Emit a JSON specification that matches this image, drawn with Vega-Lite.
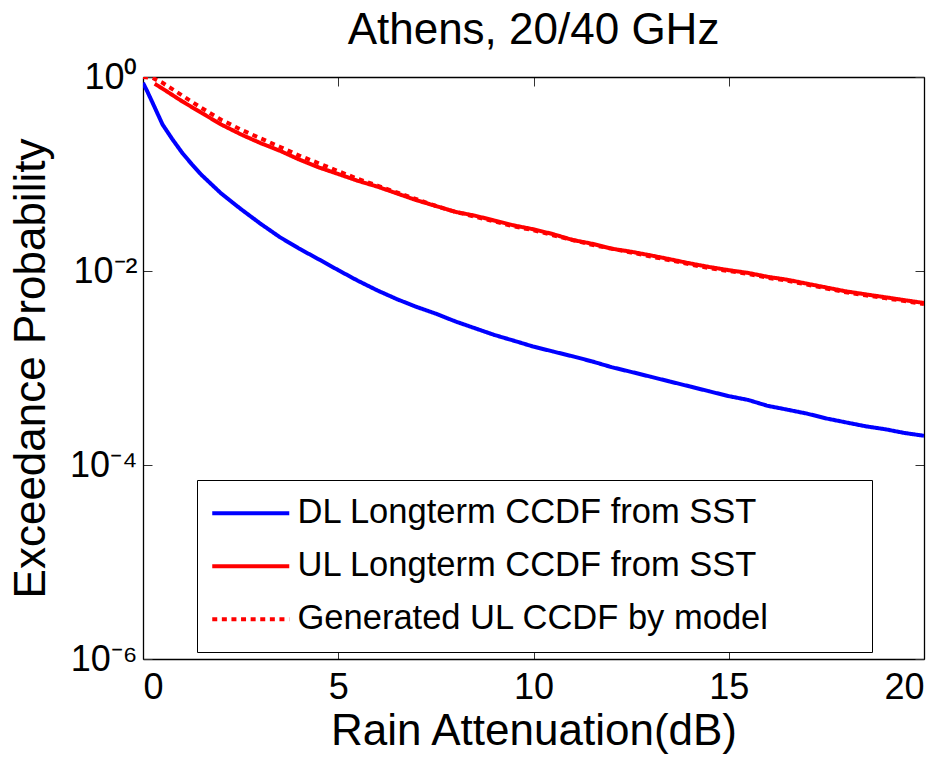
{
  "$schema": "https://vega.github.io/schema/vega-lite/v6.json",
  "width": 781,
  "height": 582,
  "autosize": {"type": "none"},
  "padding": {"left": 143, "top": 77, "right": 28, "bottom": 102},
  "background": "white",
  "title": {"text": "Athens, 20/40 GHz", "fontSize": 44, "fontWeight": "normal", "font": "Liberation Sans", "color": "black", "offset": 6},
  "config": {
    "font": "Liberation Sans",
    "view": {"stroke": null},
    "axis": {"grid": false, "domainColor": "black", "domainWidth": 1.3, "tickColor": "#333", "tickWidth": 1, "tickSize": -9, "labelFont": "Liberation Sans", "labelFontSize": 36, "labelColor": "black", "titleFont": "Liberation Sans", "titleFontSize": 44, "titleFontWeight": "normal", "titleColor": "black"}
  },
  "datasets": {
    "curves": [
      {"series": "DL Longterm CCDF from SST", "A": 0, "p": 0.871},
      {"series": "DL Longterm CCDF from SST", "A": 0.1, "p": 0.724},
      {"series": "DL Longterm CCDF from SST", "A": 0.25, "p": 0.537},
      {"series": "DL Longterm CCDF from SST", "A": 0.5, "p": 0.324},
      {"series": "DL Longterm CCDF from SST", "A": 0.75, "p": 0.229},
      {"series": "DL Longterm CCDF from SST", "A": 1.0, "p": 0.166},
      {"series": "DL Longterm CCDF from SST", "A": 1.25, "p": 0.126},
      {"series": "DL Longterm CCDF from SST", "A": 1.5, "p": 0.0977},
      {"series": "DL Longterm CCDF from SST", "A": 2.0, "p": 0.0631},
      {"series": "DL Longterm CCDF from SST", "A": 2.5, "p": 0.0437},
      {"series": "DL Longterm CCDF from SST", "A": 3.0, "p": 0.0309},
      {"series": "DL Longterm CCDF from SST", "A": 3.5, "p": 0.0224},
      {"series": "DL Longterm CCDF from SST", "A": 4.0, "p": 0.0170},
      {"series": "DL Longterm CCDF from SST", "A": 4.5, "p": 0.0132},
      {"series": "DL Longterm CCDF from SST", "A": 5.0, "p": 0.0102},
      {"series": "DL Longterm CCDF from SST", "A": 5.5, "p": 0.00794},
      {"series": "DL Longterm CCDF from SST", "A": 6.0, "p": 0.00631},
      {"series": "DL Longterm CCDF from SST", "A": 6.5, "p": 0.00513},
      {"series": "DL Longterm CCDF from SST", "A": 7.0, "p": 0.00427},
      {"series": "DL Longterm CCDF from SST", "A": 7.5, "p": 0.00363},
      {"series": "DL Longterm CCDF from SST", "A": 8.0, "p": 0.00302},
      {"series": "DL Longterm CCDF from SST", "A": 8.5, "p": 0.00257},
      {"series": "DL Longterm CCDF from SST", "A": 9.0, "p": 0.00219},
      {"series": "DL Longterm CCDF from SST", "A": 9.5, "p": 0.00191},
      {"series": "DL Longterm CCDF from SST", "A": 10.0, "p": 0.00166},
      {"series": "DL Longterm CCDF from SST", "A": 10.5, "p": 0.00148},
      {"series": "DL Longterm CCDF from SST", "A": 11.0, "p": 0.00132},
      {"series": "DL Longterm CCDF from SST", "A": 11.5, "p": 0.00117},
      {"series": "DL Longterm CCDF from SST", "A": 12.0, "p": 0.00102},
      {"series": "DL Longterm CCDF from SST", "A": 12.5, "p": 0.000912},
      {"series": "DL Longterm CCDF from SST", "A": 13.0, "p": 0.000813},
      {"series": "DL Longterm CCDF from SST", "A": 13.5, "p": 0.000724},
      {"series": "DL Longterm CCDF from SST", "A": 14.0, "p": 0.000646},
      {"series": "DL Longterm CCDF from SST", "A": 14.5, "p": 0.000575},
      {"series": "DL Longterm CCDF from SST", "A": 15.0, "p": 0.000513},
      {"series": "DL Longterm CCDF from SST", "A": 15.5, "p": 0.000468},
      {"series": "DL Longterm CCDF from SST", "A": 16.0, "p": 0.000407},
      {"series": "DL Longterm CCDF from SST", "A": 16.5, "p": 0.000372},
      {"series": "DL Longterm CCDF from SST", "A": 17.0, "p": 0.000339},
      {"series": "DL Longterm CCDF from SST", "A": 17.5, "p": 0.000302},
      {"series": "DL Longterm CCDF from SST", "A": 18.0, "p": 0.000275},
      {"series": "DL Longterm CCDF from SST", "A": 18.5, "p": 0.000251},
      {"series": "DL Longterm CCDF from SST", "A": 19.0, "p": 0.000234},
      {"series": "DL Longterm CCDF from SST", "A": 19.5, "p": 0.000214},
      {"series": "DL Longterm CCDF from SST", "A": 20.0, "p": 0.000200},
      {"series": "UL Longterm CCDF from SST", "A": 0.3, "p": 0.851},
      {"series": "UL Longterm CCDF from SST", "A": 0.5, "p": 0.759},
      {"series": "UL Longterm CCDF from SST", "A": 1.0, "p": 0.562},
      {"series": "UL Longterm CCDF from SST", "A": 1.5, "p": 0.427},
      {"series": "UL Longterm CCDF from SST", "A": 2.0, "p": 0.324},
      {"series": "UL Longterm CCDF from SST", "A": 2.5, "p": 0.257},
      {"series": "UL Longterm CCDF from SST", "A": 3.0, "p": 0.209},
      {"series": "UL Longterm CCDF from SST", "A": 3.5, "p": 0.174},
      {"series": "UL Longterm CCDF from SST", "A": 4.0, "p": 0.141},
      {"series": "UL Longterm CCDF from SST", "A": 4.5, "p": 0.117},
      {"series": "UL Longterm CCDF from SST", "A": 5.0, "p": 0.100},
      {"series": "UL Longterm CCDF from SST", "A": 5.5, "p": 0.0851},
      {"series": "UL Longterm CCDF from SST", "A": 6.0, "p": 0.0741},
      {"series": "UL Longterm CCDF from SST", "A": 6.5, "p": 0.0631},
      {"series": "UL Longterm CCDF from SST", "A": 7.0, "p": 0.0537},
      {"series": "UL Longterm CCDF from SST", "A": 7.5, "p": 0.0468},
      {"series": "UL Longterm CCDF from SST", "A": 8.0, "p": 0.0407},
      {"series": "UL Longterm CCDF from SST", "A": 8.5, "p": 0.0372},
      {"series": "UL Longterm CCDF from SST", "A": 9.0, "p": 0.0331},
      {"series": "UL Longterm CCDF from SST", "A": 9.5, "p": 0.0295},
      {"series": "UL Longterm CCDF from SST", "A": 10.0, "p": 0.0269},
      {"series": "UL Longterm CCDF from SST", "A": 10.5, "p": 0.0240},
      {"series": "UL Longterm CCDF from SST", "A": 11.0, "p": 0.0209},
      {"series": "UL Longterm CCDF from SST", "A": 11.5, "p": 0.0191},
      {"series": "UL Longterm CCDF from SST", "A": 12.0, "p": 0.0170},
      {"series": "UL Longterm CCDF from SST", "A": 12.5, "p": 0.0158},
      {"series": "UL Longterm CCDF from SST", "A": 13.0, "p": 0.0145},
      {"series": "UL Longterm CCDF from SST", "A": 13.5, "p": 0.0132},
      {"series": "UL Longterm CCDF from SST", "A": 14.0, "p": 0.0120},
      {"series": "UL Longterm CCDF from SST", "A": 14.5, "p": 0.0110},
      {"series": "UL Longterm CCDF from SST", "A": 15.0, "p": 0.0102},
      {"series": "UL Longterm CCDF from SST", "A": 15.5, "p": 0.00955},
      {"series": "UL Longterm CCDF from SST", "A": 16.0, "p": 0.00871},
      {"series": "UL Longterm CCDF from SST", "A": 16.5, "p": 0.00813},
      {"series": "UL Longterm CCDF from SST", "A": 17.0, "p": 0.00741},
      {"series": "UL Longterm CCDF from SST", "A": 17.5, "p": 0.00676},
      {"series": "UL Longterm CCDF from SST", "A": 18.0, "p": 0.00617},
      {"series": "UL Longterm CCDF from SST", "A": 18.5, "p": 0.00575},
      {"series": "UL Longterm CCDF from SST", "A": 19.0, "p": 0.00537},
      {"series": "UL Longterm CCDF from SST", "A": 19.5, "p": 0.00501},
      {"series": "UL Longterm CCDF from SST", "A": 20.0, "p": 0.00468},
      {"series": "Generated UL CCDF by model", "A": 0, "p": 1.0},
      {"series": "Generated UL CCDF by model", "A": 0.25, "p": 0.977},
      {"series": "Generated UL CCDF by model", "A": 0.5, "p": 0.871},
      {"series": "Generated UL CCDF by model", "A": 1.0, "p": 0.646},
      {"series": "Generated UL CCDF by model", "A": 1.5, "p": 0.479},
      {"series": "Generated UL CCDF by model", "A": 2.0, "p": 0.363},
      {"series": "Generated UL CCDF by model", "A": 2.5, "p": 0.288},
      {"series": "Generated UL CCDF by model", "A": 3.0, "p": 0.234},
      {"series": "Generated UL CCDF by model", "A": 3.5, "p": 0.191},
      {"series": "Generated UL CCDF by model", "A": 4.0, "p": 0.155},
      {"series": "Generated UL CCDF by model", "A": 4.5, "p": 0.129},
      {"series": "Generated UL CCDF by model", "A": 5.0, "p": 0.107},
      {"series": "Generated UL CCDF by model", "A": 5.5, "p": 0.0891},
      {"series": "Generated UL CCDF by model", "A": 6.0, "p": 0.0759},
      {"series": "Generated UL CCDF by model", "A": 6.5, "p": 0.0646},
      {"series": "Generated UL CCDF by model", "A": 7.0, "p": 0.0550},
      {"series": "Generated UL CCDF by model", "A": 7.5, "p": 0.0468},
      {"series": "Generated UL CCDF by model", "A": 8.0, "p": 0.0407},
      {"series": "Generated UL CCDF by model", "A": 8.5, "p": 0.0363},
      {"series": "Generated UL CCDF by model", "A": 9.0, "p": 0.0324},
      {"series": "Generated UL CCDF by model", "A": 9.5, "p": 0.0288},
      {"series": "Generated UL CCDF by model", "A": 10.0, "p": 0.0263},
      {"series": "Generated UL CCDF by model", "A": 10.5, "p": 0.0234},
      {"series": "Generated UL CCDF by model", "A": 11.0, "p": 0.0209},
      {"series": "Generated UL CCDF by model", "A": 11.5, "p": 0.0186},
      {"series": "Generated UL CCDF by model", "A": 12.0, "p": 0.0170},
      {"series": "Generated UL CCDF by model", "A": 12.5, "p": 0.0155},
      {"series": "Generated UL CCDF by model", "A": 13.0, "p": 0.0141},
      {"series": "Generated UL CCDF by model", "A": 13.5, "p": 0.0129},
      {"series": "Generated UL CCDF by model", "A": 14.0, "p": 0.0117},
      {"series": "Generated UL CCDF by model", "A": 14.5, "p": 0.0107},
      {"series": "Generated UL CCDF by model", "A": 15.0, "p": 0.0100},
      {"series": "Generated UL CCDF by model", "A": 15.5, "p": 0.00933},
      {"series": "Generated UL CCDF by model", "A": 16.0, "p": 0.00851},
      {"series": "Generated UL CCDF by model", "A": 16.5, "p": 0.00794},
      {"series": "Generated UL CCDF by model", "A": 17.0, "p": 0.00724},
      {"series": "Generated UL CCDF by model", "A": 17.5, "p": 0.00661},
      {"series": "Generated UL CCDF by model", "A": 18.0, "p": 0.00603},
      {"series": "Generated UL CCDF by model", "A": 18.5, "p": 0.00562},
      {"series": "Generated UL CCDF by model", "A": 19.0, "p": 0.00525},
      {"series": "Generated UL CCDF by model", "A": 19.5, "p": 0.00490},
      {"series": "Generated UL CCDF by model", "A": 20.0, "p": 0.00457}
    ]
  },
  "data": {"name": "curves"},
  "layer": [
    {
      "transform": [{"filter": "datum.series == 'DL Longterm CCDF from SST'"}],
      "mark": {"type": "line", "strokeWidth": 4, "clip": true},
      "encoding": {
        "x": {"field": "A", "type": "quantitative", "scale": {"domain": [0, 20], "nice": false}, "axis": {"orient": "bottom", "values": [0, 5, 10, 15, 20], "title": "Rain Attenuation(dB)", "labelPadding": 20, "titlePadding": 4}},
        "y": {"field": "p", "type": "quantitative", "scale": {"type": "log", "domain": [0.000001, 1], "nice": false}, "axis": {"orient": "left", "values": [0.000001, 0.0001, 0.01, 1], "labelExpr": "datum.value > 0.5 ? '10⁰' : datum.value > 0.005 ? '10⁻²' : datum.value > 0.00005 ? '10⁻⁴' : '10⁻⁶'", "title": "Exceedance Probability", "labelPadding": 15, "titlePadding": 16}},
        "color": {"field": "series", "type": "nominal", "scale": {"domain": ["DL Longterm CCDF from SST", "UL Longterm CCDF from SST", "Generated UL CCDF by model"], "range": ["#0000ff", "#ff0000", "#ff0000"]}, "legend": {"title": null, "orient": "none", "legendX": 54, "legendY": 403, "strokeColor": "black", "fillColor": "white", "padding": 16, "symbolType": "M-1.385,0H4.54", "symbolSize": 676, "symbolStrokeWidth": 4, "labelFontSize": 34.5, "labelFont": "Liberation Sans", "labelColor": "black", "labelOffset": 50, "labelLimit": 900, "rowPadding": 18, "labelExpr": "datum.label == 'Generated UL CCDF by model' ? datum.label + '\u00a0\u00a0\u00a0\u00a0\u00a0\u00a0\u00a0\u00a0\u00a0\u200b' : datum.label"}},
        "strokeDash": {"field": "series", "type": "nominal", "scale": {"domain": ["DL Longterm CCDF from SST", "UL Longterm CCDF from SST", "Generated UL CCDF by model"], "range": [[1, 0], [1, 0], [5, 4.6]]}, "legend": {"title": null, "orient": "none", "legendX": 54, "legendY": 403, "labelExpr": "datum.label == 'Generated UL CCDF by model' ? datum.label + '\u00a0\u00a0\u00a0\u00a0\u00a0\u00a0\u00a0\u00a0\u00a0\u200b' : datum.label"}}
      }
    },
    {
      "transform": [{"filter": "datum.series == 'UL Longterm CCDF from SST'"}],
      "mark": {"type": "line", "strokeWidth": 4, "clip": true},
      "encoding": {
        "x": {"field": "A", "type": "quantitative", "axis": null},
        "y": {"field": "p", "type": "quantitative", "axis": null},
        "color": {"field": "series", "type": "nominal"},
        "strokeDash": {"field": "series", "type": "nominal"}
      }
    },
    {
      "transform": [{"filter": "datum.series == 'Generated UL CCDF by model'"}],
      "mark": {"type": "line", "strokeWidth": 4, "clip": true},
      "encoding": {
        "x": {"field": "A", "type": "quantitative", "axis": null},
        "y": {"field": "p", "type": "quantitative", "axis": null},
        "color": {"field": "series", "type": "nominal"},
        "strokeDash": {"field": "series", "type": "nominal"}
      }
    },
    {
      "mark": {"type": "point", "opacity": 0},
      "encoding": {
        "x": {"field": "A", "type": "quantitative", "axis": {"orient": "top", "values": [0, 5, 10, 15, 20], "labels": false, "title": null}},
        "y": {"field": "p", "type": "quantitative", "axis": {"orient": "right", "values": [0.000001, 0.0001, 0.01, 1], "labels": false, "title": null}}
      }
    }
  ],
  "resolve": {"axis": {"x": "independent", "y": "independent"}}
}
